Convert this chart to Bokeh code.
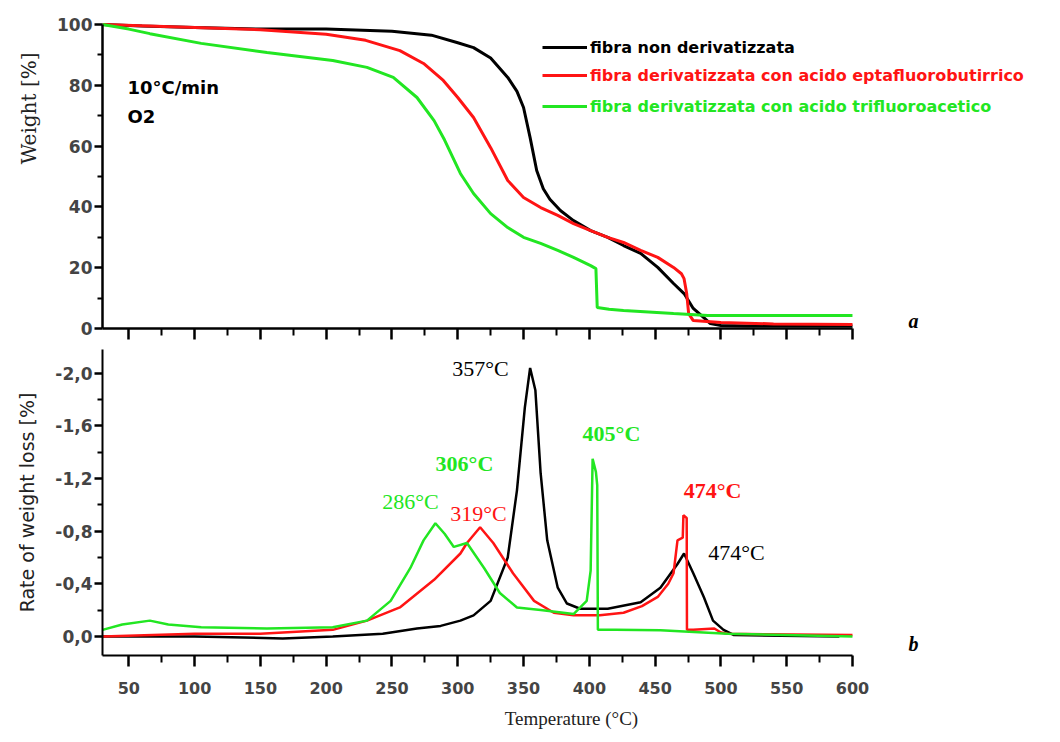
import math
from bokeh.plotting import figure
from bokeh.models import (Range1d, FixedTicker, CustomJSTickFormatter, Label,
                          Legend, LegendItem, Title)
from bokeh.layouts import column
from bokeh.embed import file_html
from bokeh.resources import INLINE

# ---------------- data ----------------
# (a) TGA weight curves
black_T = [30, 60, 100, 150, 200, 250, 280, 300, 312, 325, 338, 345, 350, 355, 360, 365,
           370, 378, 388, 401, 414, 426, 439, 452, 464, 472, 479, 487, 492, 500, 520, 600]
black_W = [100, 99.5, 99, 98.5, 98.5, 97.8, 96.5, 94, 92.4, 89, 82.6, 78, 72.7, 62.8, 52, 46,
           42.5, 38.8, 35.5, 32.2, 30, 27.3, 24.7, 20.1, 14.8, 11.5, 6.6, 3.6, 1.6, 1.0, 0.8, 0.8]

red_T = [30, 100, 150, 200, 230, 256, 274, 289, 300, 312, 325, 338, 350, 363, 376, 388, 401,
         414, 426, 439, 452, 464, 470, 472, 474, 475.5, 479, 500, 540, 600]
red_W = [100, 99, 98.3, 96.8, 94.8, 91.4, 87.2, 81.6, 76, 69.4, 59.5, 48.7, 43.1, 39.8, 37.2,
         34.5, 32.2, 30, 28.3, 25.7, 23.4, 20.1, 18, 16.4, 11.5, 4.9, 2.6, 2, 1.5, 1.3]

green_T = [30, 50, 66, 105, 155, 205, 231, 251, 269, 282, 290, 302, 312, 325, 338, 350, 363,
           376, 388, 401, 405, 406, 415, 426, 464, 490, 600]
green_W = [100, 98.5, 97, 93.8, 90.8, 88.2, 85.9, 82.6, 76, 68.4, 62, 51, 44.4, 37.8, 33.2,
           30, 28, 25.7, 23.4, 20.7, 19.7, 6.9, 6.3, 5.9, 4.9, 4.3, 4.3]

# (b) DTG rate-of-weight-loss curves
black_RT = [30, 100, 167, 205, 243, 269, 287, 302, 312, 325, 338, 345, 351, 355, 359, 363, 368,
            376, 383, 393, 414, 439, 454, 467, 472, 479, 487, 494, 502, 510, 590]
black_R = [0.0, 0.0, 0.015, 0.0, -0.02, -0.06, -0.08, -0.12, -0.16, -0.27, -0.6, -1.11, -1.74,
           -2.04, -1.87, -1.24, -0.73, -0.37, -0.25, -0.21, -0.21, -0.26, -0.37, -0.55, -0.63,
           -0.48, -0.3, -0.12, -0.05, -0.01, 0.0]

red_RT = [30, 100, 150, 205, 231, 256, 282, 302, 307, 317, 327, 342, 358, 373, 388, 408, 426,
          440, 452, 460, 464, 467, 471, 471.5, 474, 474.2, 479, 495, 500, 505, 600]
red_R = [0.0, -0.02, -0.02, -0.05, -0.12, -0.22, -0.43, -0.63, -0.71, -0.83, -0.71, -0.48,
         -0.27, -0.18, -0.16, -0.16, -0.18, -0.23, -0.3, -0.4, -0.48, -0.73, -0.75, -0.92,
         -0.90, -0.05, -0.05, -0.06, -0.03, -0.02, -0.01]

green_RT = [30, 45, 66, 80, 105, 155, 205, 231, 249, 264, 274, 283, 290, 297, 307, 320, 332,
            345, 363, 388, 398, 401, 402.5, 405, 406, 406.5, 420, 454, 505, 600]
green_R = [-0.05, -0.09, -0.12, -0.09, -0.07, -0.06, -0.07, -0.12, -0.27, -0.52, -0.73, -0.86,
           -0.78, -0.68, -0.71, -0.52, -0.33, -0.22, -0.2, -0.17, -0.27, -0.5, -1.35, -1.25,
           -1.15, -0.05, -0.05, -0.046, -0.02, 0.0]

series_names = ["fibra non derivatizzata",
                "fibra derivatizzata con acido eptafluorobutirrico",
                "fibra derivatizzata con acido trifluoroacetico"]

x_major = [50, 100, 150, 200, 250, 300, 350, 400, 450, 500, 550, 600]
x_minor = [75, 125, 175, 225, 275, 325, 375, 425, 475, 525, 575]
w_major = [0, 20, 40, 60, 80, 100]
w_minor = [10, 30, 50, 70, 90]
r_major = [-2.0, -1.6, -1.2, -0.8, -0.4, 0.0]
r_minor = [-1.8, -1.4, -1.0, -0.6, -0.2]

peak_temps = [357, 405, 306, 286, 319, 474, 474]

# ---------------- styling ----------------
BLACK = "#000000"
RED = "#ff1414"
GREEN = "#22e622"
TICK_FONT = "DejaVu Sans"


def style_x(ax, show_labels):
    ax.ticker = FixedTicker(ticks=x_major, minor_ticks=x_minor)
    ax.bounds = (30, 600)
    ax.axis_line_width = 2.5
    ax.major_tick_line_width = 2.5
    ax.minor_tick_line_width = 2
    ax.major_tick_in = 0
    ax.major_tick_out = 11
    ax.minor_tick_in = 0
    ax.minor_tick_out = 7
    ax.major_label_text_font = TICK_FONT
    ax.major_label_text_font_style = "bold"
    if show_labels:
        ax.major_label_text_font_size = "16px"
        ax.major_label_standoff = 15
    else:
        ax.formatter = CustomJSTickFormatter(code="return '';")
        ax.major_label_text_font_size = "1px"
        ax.major_label_standoff = 0


def style_y(ax):
    ax.axis_line_width = 2.5
    ax.major_tick_line_width = 2.5
    ax.minor_tick_line_width = 2
    ax.major_tick_in = 0
    ax.major_tick_out = 8
    ax.minor_tick_in = 0
    ax.minor_tick_out = 5
    ax.major_label_standoff = 2
    ax.major_label_text_font = TICK_FONT
    ax.major_label_text_font_style = "bold"
    ax.major_label_text_font_size = "17px"


# ---------------- (a) weight panel ----------------
p1 = figure(frame_width=938, frame_height=307,
            x_range=Range1d(30, 742.9), y_range=Range1d(0, 101),
            output_backend="svg", toolbar_location=None,
            min_border_left=102, min_border_right=4, min_border_top=21, min_border_bottom=20,
            background_fill_color="white", border_fill_color="white")
p1.outline_line_color = None
p1.grid.visible = False
style_x(p1.xaxis[0], False)
style_y(p1.yaxis[0])
p1.yaxis[0].ticker = FixedTicker(ticks=w_major, minor_ticks=w_minor)
p1.yaxis[0].bounds = (0, 100)

p1.add_layout(Title(text="Weight [%]", align="right", offset=31, standoff=27,
                    text_font="DejaVu Serif", text_font_size="20px",
                    text_font_style="normal", text_color="#222222"), "left")

rb = p1.line(black_T, black_W, line_color=BLACK, line_width=3)
rr = p1.line(red_T, red_W, line_color=RED, line_width=3)
rg = p1.line(green_T, green_W, line_color=GREEN, line_width=3)

legend_specs = [(rb, series_names[0], BLACK, 271),
                (rr, series_names[1], RED, 243),
                (rg, series_names[2], GREEN, 212)]
for rend, name, col, ybot in legend_specs:
    lg = Legend(items=[LegendItem(label=name, renderers=[rend])],
                location=(440, ybot), orientation="vertical",
                glyph_width=45, glyph_height=20, label_height=20, label_standoff=3,
                padding=0, margin=0, spacing=0,
                border_line_color=None, background_fill_alpha=0,
                label_text_color=col, label_text_font="DejaVu Sans",
                label_text_font_style="bold", label_text_font_size="16px")
    p1.add_layout(lg, "center")

p1.add_layout(Label(x=49, y=79.4, text="10°C/min", text_font="DejaVu Sans",
                    text_font_style="bold", text_font_size="18px",
                    text_baseline="middle", text_align="left", text_color=BLACK))
p1.add_layout(Label(x=49, y=69.9, text="O2", text_font="DejaVu Sans",
                    text_font_style="bold", text_font_size="18px",
                    text_baseline="middle", text_align="left", text_color=BLACK))
p1.add_layout(Label(x=646.4, y=2.6, text="a", text_font="Liberation Serif",
                    text_font_style="bold italic", text_font_size="20px",
                    text_align="center", text_baseline="middle", text_color=BLACK))

# ---------------- (b) derivative panel ----------------
p2 = figure(frame_width=938, frame_height=306,
            x_range=p1.x_range, y_range=Range1d(0.145, -2.18),
            output_backend="svg", toolbar_location=None,
            min_border_left=102, min_border_right=4, min_border_top=1, min_border_bottom=80,
            background_fill_color="white", border_fill_color="white")
p2.outline_line_color = None
p2.grid.visible = False
style_x(p2.xaxis[0], True)
style_y(p2.yaxis[0])
p2.yaxis[0].ticker = FixedTicker(ticks=r_major, minor_ticks=r_minor)
p2.yaxis[0].formatter = CustomJSTickFormatter(code="return tick.toFixed(1).replace('.', ',');")
p2.yaxis[0].axis_line_width = 2
p2.xaxis[0].axis_line_width = 2

p2.xaxis[0].axis_label = "Temperature (°C)"
p2.xaxis[0].axis_label_text_font = "Liberation Serif"
p2.xaxis[0].axis_label_text_font_style = "normal"
p2.xaxis[0].axis_label_text_font_size = "19px"
p2.xaxis[0].axis_label_standoff = 11
p2.xaxis[0].axis_label_text_color = "#222222"

p2.yaxis[0].axis_label = "Rate of weight loss [%]"
p2.yaxis[0].axis_label_text_font = "DejaVu Sans"
p2.yaxis[0].axis_label_text_font_style = "normal"
p2.yaxis[0].axis_label_text_font_size = "19px"
p2.yaxis[0].axis_label_standoff = 14
p2.yaxis[0].axis_label_text_color = "#222222"

p2.line(black_RT, black_R, line_color=BLACK, line_width=2.5)
p2.line(red_RT, red_R, line_color=RED, line_width=2.5)
p2.line(green_RT, green_R, line_color=GREEN, line_width=2.5)

peak_specs = [  # (index into peak_temps, x, y, color, style)
    (0, 317.3, -2.038, BLACK, "normal"),
    (1, 416.8, -1.544, GREEN, "bold"),
    (2, 305.1, -1.316, GREEN, "bold"),
    (3, 264.1, -1.027, GREEN, "normal"),
    (4, 315.8, -0.935, RED, "normal"),
    (5, 493.6, -1.110, RED, "bold"),
    (6, 511.8, -0.639, BLACK, "normal"),
]
for i, x, y, col, sty in peak_specs:
    p2.add_layout(Label(x=x, y=y, text=f"{peak_temps[i]}°C", text_font="Liberation Serif",
                        text_font_style=sty, text_font_size="22px", text_color=col,
                        text_align="center", text_baseline="middle"))

p2.add_layout(Label(x=646.4, y=0.06, text="b", text_font="Liberation Serif",
                    text_font_style="bold italic", text_font_size="20px",
                    text_align="center", text_baseline="middle", text_color=BLACK))

layout = column(p1, p2, spacing=0)
open("out.html", "w").write(file_html(layout, INLINE))
